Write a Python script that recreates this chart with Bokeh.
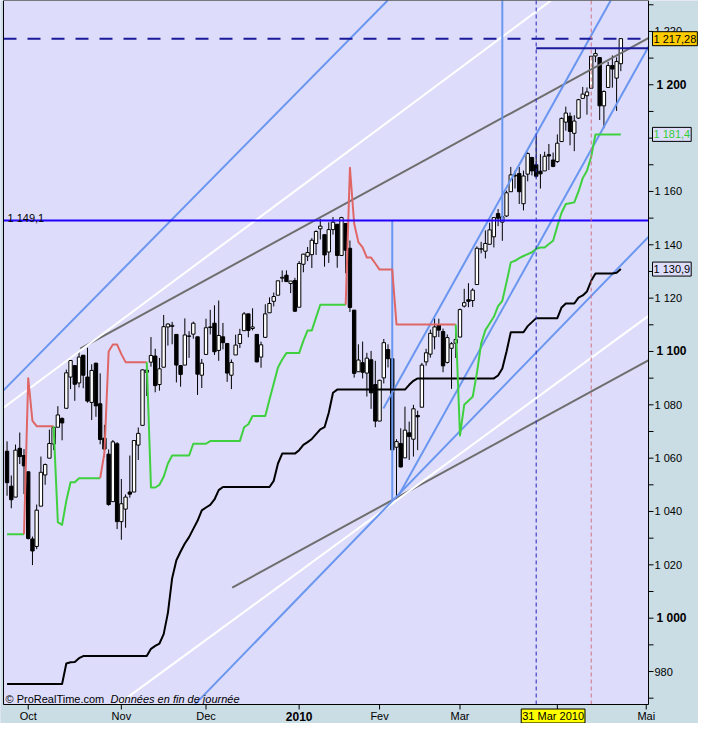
from bokeh.plotting import figure
from bokeh.models import Range1d, Label
from bokeh.core.properties import value
from bokeh.embed import file_html
from bokeh.resources import INLINE

# ---------------- data (S&P 500 daily) ----------------
# trading-day positions: 0 = 1 Oct 2009, ... 140 = 23 Apr 2010
day_index = list(range(-5, 141))

opens = [
    1062.6, 1049.5, 1045.4, 1063.7, 1061.0, 1054.9, 1029.7, 1026.9, 1042.0, 1053.7,
    1060.0, 1065.3, 1071.6, 1074.9, 1078.7, 1090.4, 1094.7, 1088.2, 1098.6, 1090.4,
    1080.9, 1095.6, 1080.4, 1067.5, 1061.5, 1043.7, 1065.4, 1036.2, 1040.9, 1047.3,
    1047.3, 1064.9, 1072.3, 1092.2, 1096.0, 1098.3, 1087.6, 1094.1, 1109.2, 1109.4,
    1106.4, 1094.7, 1094.9, 1105.8, 1106.5, 1105.5, 1091.1, 1098.9, 1109.0, 1110.6,
    1100.4, 1105.5, 1103.0, 1091.1, 1098.7, 1103.0, 1107.8, 1114.1, 1108.6, 1106.4,
    1097.9, 1105.3, 1114.5, 1118.8, 1121.1, 1127.5, 1128.6, 1125.5, 1126.6, 1116.6,
    1132.7, 1135.7, 1136.3, 1140.5, 1146.0, 1143.8, 1137.3, 1145.7, 1147.7, 1136.0,
    1148.0, 1138.7, 1115.5, 1092.4, 1095.8, 1091.9, 1096.9, 1087.6, 1073.9, 1090.1,
    1100.7, 1097.3, 1064.1, 1065.5, 1060.1, 1069.5, 1067.1, 1076.0, 1079.1, 1096.1,
    1099.0, 1105.5, 1110.0, 1107.5, 1095.9, 1101.2, 1103.1, 1105.4, 1117.0, 1119.4,
    1119.1, 1125.1, 1138.4, 1137.6, 1140.2, 1143.0, 1151.7, 1148.5, 1150.8, 1159.9,
    1166.1, 1166.7, 1155.4, 1166.5, 1172.7, 1170.0, 1167.6, 1167.7, 1173.8, 1171.8,
    1171.2, 1178.7, 1186.0, 1188.2, 1181.8, 1187.5, 1194.9, 1195.9, 1198.7, 1210.8,
    1210.2, 1192.1, 1199.0, 1207.2, 1202.5, 1207.9,
]
highs = [
    1066.3, 1053.5, 1065.1, 1069.6, 1063.4, 1054.9, 1030.6, 1042.6, 1060.6, 1058.0,
    1070.7, 1071.5, 1079.5, 1075.3, 1093.2, 1096.6, 1094.7, 1100.2, 1098.6, 1101.4,
    1095.2, 1095.8, 1091.8, 1072.5, 1063.3, 1066.8, 1066.0, 1052.2, 1046.4, 1061.0,
    1066.7, 1071.5, 1093.2, 1094.0, 1105.4, 1101.0, 1097.6, 1113.7, 1110.5, 1111.1,
    1106.4, 1094.7, 1112.4, 1107.6, 1111.2, 1105.5, 1097.2, 1112.3, 1115.6, 1117.3,
    1119.1, 1110.7, 1103.0, 1097.0, 1106.3, 1108.5, 1114.8, 1114.1, 1116.2, 1106.4,
    1103.7, 1117.7, 1120.3, 1122.1, 1126.5, 1130.4, 1130.4, 1126.4, 1127.6, 1133.9,
    1136.6, 1139.2, 1142.5, 1145.4, 1149.7, 1143.8, 1148.4, 1150.4, 1147.7, 1150.5,
    1148.0, 1141.6, 1115.5, 1102.7, 1103.7, 1099.5, 1100.2, 1096.5, 1089.4, 1104.7,
    1102.7, 1097.3, 1067.1, 1071.2, 1079.3, 1073.7, 1080.0, 1077.8, 1095.7, 1101.0,
    1108.2, 1112.4, 1112.3, 1108.6, 1106.4, 1103.5, 1107.2, 1116.1, 1123.5, 1125.6,
    1123.7, 1139.4, 1141.1, 1145.4, 1148.3, 1150.2, 1153.4, 1151.0, 1160.3, 1169.2,
    1167.8, 1169.2, 1167.8, 1174.7, 1173.0, 1180.7, 1174.0, 1174.9, 1177.8, 1174.6,
    1181.4, 1187.7, 1191.8, 1189.6, 1188.6, 1194.7, 1199.2, 1199.0, 1210.7, 1213.9,
    1210.2, 1197.9, 1208.6, 1211.0, 1210.3, 1217.3,
]
lows = [
    1045.9, 1041.2, 1045.4, 1057.8, 1046.5, 1029.5, 1019.9, 1025.9, 1042.0, 1050.0,
    1060.0, 1063.0, 1071.6, 1066.7, 1078.7, 1085.9, 1081.5, 1086.5, 1086.2, 1080.8,
    1074.3, 1075.5, 1065.2, 1060.6, 1042.2, 1043.7, 1033.4, 1029.4, 1033.9, 1045.2,
    1047.3, 1059.3, 1072.3, 1083.3, 1094.3, 1084.7, 1085.3, 1094.1, 1102.2, 1102.7,
    1088.4, 1086.8, 1094.9, 1097.6, 1104.8, 1083.7, 1086.3, 1098.9, 1106.4, 1098.7,
    1096.5, 1100.8, 1088.6, 1085.9, 1098.7, 1101.3, 1107.8, 1105.3, 1107.9, 1095.9,
    1093.9, 1105.3, 1114.5, 1116.9, 1121.1, 1126.0, 1126.2, 1121.9, 1114.8, 1116.6,
    1129.7, 1133.9, 1131.3, 1136.2, 1142.0, 1131.8, 1133.2, 1143.8, 1131.4, 1135.8,
    1129.3, 1114.8, 1090.2, 1092.4, 1089.9, 1083.1, 1078.5, 1071.6, 1073.9, 1088.0,
    1094.0, 1062.8, 1044.5, 1056.5, 1060.1, 1059.3, 1060.6, 1063.0, 1079.1, 1094.7,
    1097.7, 1100.8, 1105.4, 1092.2, 1095.5, 1086.0, 1097.6, 1105.4, 1116.5, 1116.6,
    1116.7, 1125.1, 1136.8, 1134.9, 1140.1, 1139.0, 1147.0, 1141.5, 1150.4, 1159.9,
    1161.1, 1155.3, 1152.9, 1163.8, 1166.0, 1165.1, 1161.1, 1167.7, 1168.0, 1169.1,
    1170.7, 1178.7, 1182.8, 1177.3, 1175.1, 1187.2, 1194.7, 1188.8, 1198.7, 1208.5,
    1186.8, 1183.7, 1199.0, 1198.9, 1190.2, 1205.1,
]
closes = [
    1050.8, 1044.4, 1063.0, 1060.6, 1057.1, 1029.9, 1025.2, 1040.5, 1054.7, 1057.6,
    1065.5, 1071.5, 1076.2, 1073.2, 1092.0, 1096.6, 1087.7, 1097.9, 1091.1, 1081.4,
    1092.9, 1079.6, 1067.0, 1063.4, 1042.6, 1066.1, 1036.2, 1042.9, 1045.4, 1046.5,
    1066.6, 1069.3, 1093.1, 1093.0, 1098.5, 1087.2, 1093.5, 1109.3, 1110.3, 1109.8,
    1094.9, 1091.4, 1106.2, 1105.7, 1110.6, 1091.5, 1095.6, 1108.9, 1109.2, 1099.9,
    1106.0, 1103.3, 1091.9, 1095.9, 1102.4, 1106.4, 1114.1, 1107.9, 1109.2, 1096.1,
    1102.5, 1114.1, 1118.0, 1120.6, 1126.5, 1127.8, 1126.2, 1126.4, 1115.1, 1133.0,
    1136.5, 1137.1, 1141.7, 1145.0, 1147.0, 1136.2, 1145.7, 1148.5, 1136.0, 1150.2,
    1138.0, 1116.5, 1091.8, 1096.8, 1092.2, 1097.5, 1084.5, 1073.9, 1089.2, 1103.3,
    1097.3, 1063.1, 1066.2, 1056.7, 1070.5, 1068.1, 1078.5, 1075.5, 1094.9, 1099.5,
    1106.8, 1109.2, 1108.0, 1094.6, 1105.2, 1102.9, 1104.5, 1115.7, 1118.3, 1118.8,
    1123.0, 1138.7, 1138.5, 1140.5, 1145.6, 1150.2, 1150.0, 1150.5, 1159.5, 1166.2,
    1165.8, 1159.9, 1165.8, 1174.2, 1167.7, 1165.7, 1166.6, 1173.2, 1173.3, 1169.4,
    1178.1, 1187.4, 1189.4, 1182.5, 1186.4, 1194.4, 1196.5, 1197.3, 1210.7, 1211.7,
    1192.1, 1197.5, 1207.2, 1205.9, 1208.7, 1217.3,
]

# slow trailing line (black)
black_line = [
    975.3, 975.3, 975.3, 975.3, 975.3, 975.3, 975.3, 975.3, 975.3, 975.3,
    975.3, 975.3, 975.3, 975.3, 983.0, 983.5, 983.6, 985.0, 985.8, 985.8,
    985.8, 985.8, 985.8, 985.8, 985.8, 985.8, 985.8, 985.8, 985.8, 985.8,
    985.8, 985.8, 985.8, 985.8, 988.5, 989.6, 990.5, 994.0, 1002.0, 1015.0,
    1021.7, 1025.0, 1028.0, 1030.4, 1033.5, 1036.5, 1040.4, 1041.5, 1042.5, 1044.5,
    1048.0, 1049.2, 1049.2, 1049.2, 1049.2, 1049.2, 1049.2, 1049.2, 1049.2, 1049.2,
    1049.2, 1049.2, 1049.2, 1051.5, 1058.0, 1061.7, 1061.7, 1061.7, 1061.7, 1063.0,
    1065.0, 1066.0, 1067.2, 1069.0, 1070.8, 1071.6, 1077.0, 1084.5, 1085.7, 1085.7,
    1085.7, 1085.7, 1085.7, 1085.7, 1085.7, 1085.7, 1085.7, 1085.7, 1085.7, 1085.7,
    1085.7, 1085.7, 1085.7, 1085.7, 1085.7, 1087.5, 1089.0, 1089.9, 1089.9, 1089.9,
    1089.9, 1089.9, 1089.9, 1089.9, 1089.9, 1089.9, 1089.9, 1089.9, 1089.9, 1089.9,
    1089.9, 1089.9, 1089.9, 1089.9, 1089.9, 1089.9, 1091.0, 1093.6, 1100.0, 1107.2,
    1107.2, 1107.2, 1107.2, 1109.5, 1111.0, 1112.5, 1112.5, 1112.5, 1112.5, 1112.5,
    1112.5, 1116.5, 1118.0, 1118.0, 1118.0, 1120.2, 1121.0, 1122.5, 1126.5, 1129.2,
    1129.2, 1129.2, 1129.2, 1129.2, 1129.5, 1130.9,
]

# fast trailing stop (green below price, red above price)
stop_line = [
    1031.5, 1031.5, 1031.5, 1031.5, 1031.5, 1090.0, 1074.0, 1072.0, 1072.0, 1072.0,
    1072.0, 1072.0, 1036.0, 1035.0, 1044.0, 1051.0, 1051.0, 1052.5, 1052.5, 1052.5,
    1052.5, 1052.5, 1052.5, 1062.0, 1100.0, 1102.6, 1102.6, 1099.0, 1096.0, 1096.0,
    1096.0, 1096.0, 1096.0, 1096.0, 1049.0, 1049.0, 1050.0, 1053.0, 1058.0, 1061.0,
    1061.0, 1061.0, 1061.0, 1061.0, 1065.4, 1065.4, 1065.4, 1065.4, 1066.4, 1066.4,
    1066.4, 1066.4, 1066.4, 1066.4, 1066.4, 1066.4, 1071.6, 1072.7, 1075.8, 1075.8,
    1075.8, 1075.8, 1082.0, 1088.0, 1094.0, 1097.0, 1099.4, 1099.4, 1099.4, 1099.4,
    1104.0, 1107.9, 1107.9, 1112.8, 1117.5, 1117.5, 1117.5, 1117.5, 1117.5, 1117.5,
    1117.5, 1168.9, 1148.0, 1141.0, 1139.0, 1135.2, 1135.2, 1133.0, 1130.7, 1130.7,
    1130.7, 1130.7, 1110.1, 1110.1, 1110.1, 1110.1, 1110.1, 1110.1, 1110.1, 1110.1,
    1110.1, 1110.1, 1110.1, 1110.1, 1110.1, 1110.1, 1110.1, 1068.5, 1080.0, 1081.5,
    1083.0, 1092.0, 1103.0, 1108.0, 1110.5, 1113.0, 1117.0, 1119.0, 1126.0, 1133.4,
    1134.0, 1135.0, 1135.8, 1136.5, 1137.2, 1138.5, 1139.0, 1139.0, 1140.3, 1141.5,
    1147.0, 1152.0, 1155.3, 1155.6, 1155.9, 1160.0, 1165.0, 1167.8, 1173.0, 1181.4,
    1181.4, 1181.4, 1181.4, 1181.4, 1181.4, 1181.4,
]
# (side, first day, last day)
stop_runs = [("G", -5, -1), ("R", 0, 6), ("G", 7, 17), ("R", 18, 28),
             ("G", 29, 75), ("R", 76, 101), ("G", 102, 140)]

# straight trend lines: two points each (day position, value)
trend_x0 = [12.3, 48.2, -5.84, 17.0, -5.84, 83.9, 87.5, 36.4]
trend_v0 = [1101.1, 1011.5, 1078.9, 962.8, 1085.4, 1078.6, 1046.0, 962.8]
trend_x1 = [149.85, 149.85, 123.5, 149.85, 84.9, 137.6, 149.85, 149.85]
trend_v1 = [1220.4, 1099.6, 1231.6, 1117.2, 1231.6, 1231.6, 1223.7, 1148.4]
trend_kind = ["gray", "gray", "white", "white", "blue", "blue", "blue", "blue"]

# horizontal levels
level_main = 1149.1
level_last = 1217.28
level_short = 1213.7
level_short_from, level_short_to = 120, 148.8
level_green = 1181.4
level_black = 1130.9

# vertical markers
vseg_x = [86, 112]
vseg_from = [1044.5, 1149.1]
vseg_to = [1149.1, 1231.6]
vdash_blue = 120
vdash_red = 133
cursor_day = 124

# axes
y_ticks = [980, 1020, 1040, 1060, 1080, 1120, 1140, 1160, 1220]
y_tick_labels = ["980", "1 020", "1 040", "1 060", "1 080", "1 120", "1 140", "1 160", "1 220"]
y_bold_ticks = [1000, 1100, 1200]
y_bold_labels = ["1 000", "1 100", "1 200"]
y_tick_marks = [970, 980, 990, 1000, 1010, 1020, 1030, 1040, 1050, 1060, 1070, 1080,
                1090, 1100, 1110, 1120, 1130, 1140, 1150, 1160, 1170, 1180, 1190,
                1200, 1210, 1220, 1230]
month_ticks = [0, 22, 42, 64, 83, 102, 125, 146]
month_labels = ["Oct", "Nov", "Dec", "2010", "Fev", "Mar", "", "Mai"]
month_bold = [False, False, False, True, False, False, False, False]

assert all(len(a) == len(day_index) for a in (opens, highs, lows, closes, black_line, stop_line))

# ---------------- layout ----------------
CANVAS_W, CANVAS_H = 698, 723
LEFT_STRIP = 3
CHART_W, CHART_H = 645, 704
PXX = 4.233          # pixels per trading day
PXY = 2.667          # pixels per index point
x_start = -5.84
y_end = 1231.6
x_end = x_start + CHART_W / PXX
y_start = y_end - CHART_H / PXY
x_lo = x_start - LEFT_STRIP / PXX
x_hi = x_lo + CANVAS_W / PXX
y_lo = y_end - CANVAS_H / PXY

FONT = "Liberation Sans"
PLOT_BG = "#DDDDFB"
PANEL_BG = "#CADCE4"
GREEN = "#3FD03F"
RED = "#E06666"
BLUE = "#6A96F0"
GRAY = "#6E6E6E"
NAVY = "#1A1A9A"

p = figure(width=CANVAS_W, height=CANVAS_H, output_backend="svg", toolbar_location=None,
           x_range=Range1d(x_lo, x_hi), y_range=Range1d(y_lo, y_end),
           x_axis_location=None, y_axis_location=None,
           min_border_left=0, min_border_right=0, min_border_top=0, min_border_bottom=0)
p.background_fill_color = PLOT_BG
p.border_fill_color = PANEL_BG
p.outline_line_color = None
p.grid.visible = False

# candles
body_top = [max(o, c) for o, c in zip(opens, closes)]
body_bot = [min(o, c) for o, c in zip(opens, closes)]
body_fill = ["white" if c >= o else "black" for o, c in zip(opens, closes)]
p.segment(x0=day_index, y0=highs, x1=day_index, y1=lows, line_color="black", line_width=1)
p.vbar(x=day_index, width=0.8, top=body_top, bottom=body_bot,
       fill_color=body_fill, line_color="black", line_width=1)

# trend lines
kind_style = {"gray": (GRAY, 2), "white": ("white", 2), "blue": (BLUE, 2)}
for x0, v0, x1, v1, k in zip(trend_x0, trend_v0, trend_x1, trend_v1, trend_kind):
    col, w = kind_style[k]
    p.line([x0, x1], [v0, v1], line_color=col, line_width=w)

# vertical partial lines
p.segment(x0=vseg_x, y0=vseg_from, x1=vseg_x, y1=vseg_to, line_color=BLUE, line_width=2)

# black trailing line
p.line(day_index, black_line, line_color="black", line_width=2, line_join="round")

# stop line, coloured by side
for side, a, b in stop_runs:
    start = max(a - 1, day_index[0])
    xs = [d for d in day_index if start <= d <= b]
    ys = [stop_line[day_index.index(d)] for d in xs]
    p.line(xs, ys, line_color=GREEN if side == "G" else RED, line_width=2, line_join="round")

# horizontal levels
p.line([level_short_from, level_short_to], [level_short, level_short], line_color=NAVY, line_width=2)
p.line([x_start, x_end], [level_main, level_main], line_color="#2200FF", line_width=2)
p.line([x_start, x_end], [level_last, level_last], line_color=NAVY, line_width=2, line_dash="13 11")

# vertical dashed markers
p.line([vdash_blue, vdash_blue], [y_start, y_end], line_color="#2424C0", line_width=1, line_dash="4 3")
p.line([vdash_red, vdash_red], [y_start, y_end], line_color="#D07080", line_width=1, line_dash="4 3")

# ----- panels (mask everything outside the chart) -----
p.quad(left=[x_end, x_lo, x_lo], right=[x_hi, x_hi, x_start],
       bottom=[y_lo, y_lo, y_lo], top=[y_end, y_start, y_end],
       fill_color=PANEL_BG, line_color=None)

# chart border / axis lines
p.line([x_start, x_end, x_end, x_start, x_start], [y_start, y_start, y_end, y_end, y_start],
       line_color="black", line_width=1)

# y ticks
tick_dx = 5 / PXX
p.segment(x0=[x_end] * len(y_tick_marks), y0=y_tick_marks,
          x1=[x_end + tick_dx] * len(y_tick_marks), y1=y_tick_marks,
          line_color="black", line_width=1)
p.text(x=[x_end + 6 / PXX] * len(y_ticks), y=y_ticks, text=y_tick_labels,
       text_baseline="middle", text_align="left", text_font=value(FONT),
       text_font_size="11px", text_color="black")
p.text(x=[x_end + 8 / PXX] * len(y_bold_ticks), y=y_bold_ticks, text=y_bold_labels,
       text_baseline="middle", text_align="left", text_font=value(FONT),
       text_font_size="12px", text_font_style="bold", text_color="black")

# x ticks
tick_dy = 5 / PXY
p.segment(x0=month_ticks, y0=[y_start] * len(month_ticks), x1=month_ticks,
          y1=[y_start - tick_dy] * len(month_ticks), line_color="black", line_width=1)
lab_y = y_start - 11.5 / PXY
reg = [(t, l) for t, l, b in zip(month_ticks, month_labels, month_bold) if l and not b]
bold = [(t, l) for t, l, b in zip(month_ticks, month_labels, month_bold) if l and b]
p.text(x=[t for t, _ in reg], y=[lab_y] * len(reg), text=[l for _, l in reg],
       text_align="center", text_baseline="middle", text_font=value(FONT),
       text_font_size="11px", text_color="black")
p.text(x=[t for t, _ in bold], y=[lab_y] * len(bold), text=[l for _, l in bold],
       text_align="center", text_baseline="middle", text_font=value(FONT),
       text_font_size="12px", text_font_style="bold", text_color="black")

# ----- labels -----
def lab(**kw):
    base = dict(text_font=FONT, text_font_size="11px", text_color="black")
    base.update(kw)
    p.add_layout(Label(**base))

lab(x=x_start, y=level_main, x_offset=4, y_offset=3, text="1 149,1", text_baseline="alphabetic")
lab(x=x_start, y=y_start, x_offset=2, y_offset=6, text="© ProRealTime.com", text_baseline="middle")
lab(x=x_start, y=y_start, x_offset=107, y_offset=6, text="Données en fin de journée",
    text_baseline="middle", text_font_style="italic")

lab(x=x_end, y=level_last, x_offset=4, text="1 217,28", text_baseline="middle",
    background_fill_color="#FFCC00", border_line_color="black", padding=1)
lab(x=x_end, y=level_green, x_offset=4, text="1 181,4", text_baseline="middle",
    text_color="#33CC33", background_fill_color=PLOT_BG, border_line_color="black", padding=1)
lab(x=x_end, y=level_black, x_offset=4, text="1 130,9", text_baseline="middle",
    background_fill_color=PLOT_BG, border_line_color="black", padding=1)
lab(x=cursor_day, y=lab_y, text="31 Mar 2010", text_align="center", text_baseline="middle",
    background_fill_color="#FFFF00", border_line_color="black", padding=1)

open("out.html", "w").write(file_html(p, INLINE))
